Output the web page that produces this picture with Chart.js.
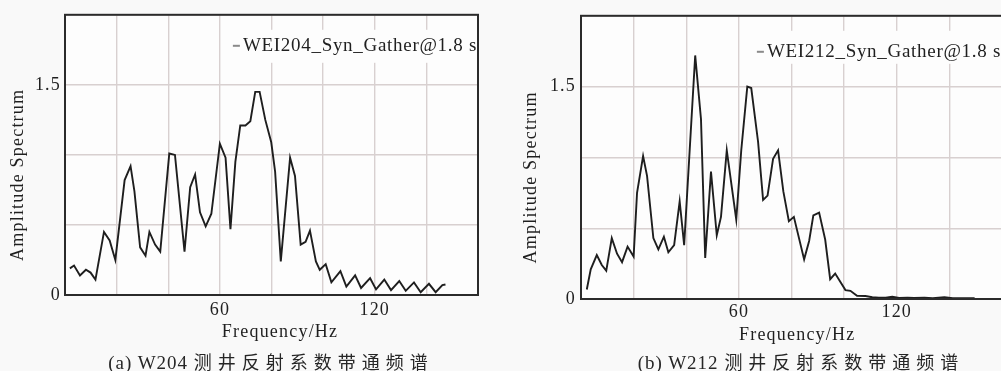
<!DOCTYPE html>
<html>
<head>
<meta charset="utf-8">
<script src="https://cdn.jsdelivr.net/npm/chart.js@4.4.1/dist/chart.umd.min.js"></script>
<style>
  html, body { margin: 0; padding: 0; }
  body { width: 1001px; height: 371px; overflow: hidden; position: relative; background: #f9f9f9; }
  canvas { position: absolute; top: 0; }
  #chartA { left: 0; }
  #chartB { left: 500px; }
  .cap { position: absolute; top: 348px; height: 22px; line-height: 22px; text-align: center; white-space: nowrap;
         font: 19px "Liberation Serif", serif; color: #262626; letter-spacing: 1px; }
  .cap span { font-family: "Noto Sans CJK SC", sans-serif; font-size: 18px; letter-spacing: 6px; }
</style>
</head>
<body>
<canvas id="chartA" width="500" height="371"></canvas>
<canvas id="chartB" width="520" height="371"></canvas>
<div class="cap" style="left:0;width:542px">(a) W204 <span>测井反射系数带通频谱</span></div>
<div class="cap" style="left:560px;width:482px">(b) W212 <span>测井反射系数带通频谱</span></div>
<script>
// values (frequency in Hz, amplitude)
const freqA = [1.9, 3.5, 5.8, 8.1, 9.9, 11.8, 15.1, 17.3, 19.5, 23.1, 25.4, 26.9, 29.1, 31.2, 32.7, 34.9, 36.9,
  40.4, 42.6, 46.3, 48.5, 50.4, 52.3, 54.5, 56.7, 60.0, 62.2, 64.1, 66.0, 67.9, 69.9, 71.8, 73.7, 75.4, 77.6,
  79.9, 81.4, 83.6, 87.2, 89.1, 91.3, 93.2, 94.9, 97.2, 98.7, 101.0, 103.2, 106.7, 109.0, 112.4, 114.7, 118.2,
  120.5, 123.7, 126.3, 129.5, 132.0, 135.2, 137.8, 141.0, 143.6, 146.2, 147.4];
const ampA = [0.19, 0.21, 0.14, 0.18, 0.16, 0.11, 0.45, 0.39, 0.25, 0.82, 0.92, 0.74, 0.34, 0.28, 0.45, 0.36, 0.31,
  1.01, 1.00, 0.31, 0.77, 0.86, 0.59, 0.49, 0.58, 1.08, 0.98, 0.47, 0.95, 1.21, 1.21, 1.24, 1.45, 1.45, 1.25,
  1.09, 0.88, 0.24, 0.98, 0.85, 0.36, 0.38, 0.46, 0.24, 0.18, 0.22, 0.09, 0.17, 0.06, 0.14, 0.05, 0.12,
  0.04, 0.11, 0.035, 0.10, 0.03, 0.09, 0.02, 0.08, 0.02, 0.07, 0.075];

const freqB = [2.2, 3.7, 6.0, 7.9, 9.6, 11.7, 13.7, 15.6, 17.7, 20.0, 21.3, 23.6, 25.1, 27.5, 29.4, 31.5, 33.2,
  35.4, 37.5, 39.2, 43.4, 45.6, 47.2, 49.4, 51.6, 53.2, 55.4, 59.0, 60.9, 63.2, 64.7, 67.3, 69.2, 70.9, 73.0,
  74.9, 76.9, 79.0, 80.9, 84.8, 86.7, 88.3, 90.5, 92.8, 94.7, 96.6, 100.5, 102.4, 104.9, 108.1, 110.7, 113.2,
  115.8, 118.3, 120.9, 124.1, 126.6, 130.5, 133.7, 138.1, 141.3, 145.2, 149.6];
const ampB = [0.067, 0.21, 0.31, 0.24, 0.20, 0.43, 0.32, 0.26, 0.37, 0.30, 0.75, 1.01, 0.87, 0.43, 0.35, 0.44, 0.33,
  0.38, 0.69, 0.38, 1.72, 1.27, 0.29, 0.90, 0.45, 0.58, 1.05, 0.56, 1.05, 1.50, 1.49, 1.11, 0.70, 0.73, 0.99,
  1.05, 0.76, 0.55, 0.58, 0.28, 0.41, 0.59, 0.61, 0.42, 0.14, 0.18, 0.063, 0.058, 0.023, 0.021, 0.012, 0.009,
  0.009, 0.016, 0.007, 0.009, 0.007, 0.009, 0.005, 0.012, 0.005, 0.005, 0.005];

const xTickLabels = [60, 120];
const yTickLabels = [0, 1.5];
const labelA = 'WEI204_Syn_Gather@1.8 s';
const labelB = 'WEI212_Syn_Gather@1.8 s';

Chart.defaults.font.family = '"Liberation Serif", "Times New Roman", serif';
Chart.defaults.font.size = 18;
Chart.defaults.color = '#1f1f1f';

function toPoints(xs, ys) {
  return xs.map((x, i) => ({ x: x, y: ys[i] }));
}

// wider letter spacing like the scanned figure, plus the white plot area
const textSpacing = {
  id: 'textSpacing',
  beforeLayout(chart) {
    chart.ctx.letterSpacing = '1.2px';
  },
  beforeDraw(chart) {
    const ctx = chart.ctx, a = chart.chartArea;
    ctx.letterSpacing = '1.2px';
    ctx.save();
    ctx.fillStyle = '#fdfdfd';
    ctx.fillRect(a.left, a.top, a.right - a.left, a.bottom - a.top);
    ctx.restore();
  }
};

// legend sits inside the box at top right, and the box gets a frame all round
const boxLegend = {
  id: 'boxLegend',
  beforeDatasetsDraw(chart, args, opts) {
    const ctx = chart.ctx, a = chart.chartArea;
    const text = chart.data.datasets[0].label;
    ctx.save();
    ctx.font = '19px "Liberation Serif", serif';
    ctx.letterSpacing = '0.7px';
    const w = ctx.measureText(text).width;
    const x = a.right - 1;
    const y = a.top + opts.baseline;
    ctx.fillStyle = '#fdfdfd';
    ctx.fillRect(x - w - 14, a.top + 15, w + 14, 33);
    ctx.fillStyle = '#8a8a8a';
    ctx.fillRect(x - w - 10, y - 6, 7, 2);
    ctx.fillStyle = '#1f1f1f';
    ctx.textAlign = 'right';
    ctx.textBaseline = 'alphabetic';
    ctx.fillText(text, x, y);
    ctx.restore();
  },
  afterDatasetsDraw(chart) {
    const ctx = chart.ctx, a = chart.chartArea;
    ctx.save();
    ctx.strokeStyle = '#2b2b2b';
    ctx.lineWidth = 2;
    ctx.strokeRect(a.left, a.top, a.right - a.left, a.bottom - a.top);
    ctx.restore();
  }
};

function makeChart(id, xs, ys, label, g) {
  return new Chart(document.getElementById(id), {
    type: 'line',
    data: {
      datasets: [{
        label: label,
        data: toPoints(xs, ys),
        borderColor: '#1e1e1e',
        borderWidth: 1.9,
        pointRadius: 0,
        tension: 0,
        fill: false
      }]
    },
    options: {
      responsive: false,
      animation: false,
      events: [],
      layout: { padding: { left: 0, top: g.top, right: g.right, bottom: 0 } },
      plugins: {
        legend: { display: false },
        tooltip: { enabled: false },
        boxLegend: { baseline: g.legendY }
      },
      scales: {
        x: {
          type: 'linear',
          min: 0,
          max: 160,
          afterFit: (s) => { s.height = g.xHeight; },
          grid: { color: '#d8d0d0', lineWidth: 1.4, drawTicks: false },
          border: { display: false },
          ticks: {
            stepSize: 20,
            autoSkip: false,
            maxRotation: 0,
            padding: g.xTickPad,
            callback: (v) => xTickLabels.includes(v) ? String(v) : ''
          },
          title: { display: true, text: g.xTitle, padding: { top: 0, bottom: g.xTitlePad } }
        },
        y: {
          min: 0,
          max: 2,
          afterFit: (s) => { s.width = g.yWidth; },
          grid: { color: '#d8d0d0', lineWidth: 1.4, drawTicks: false },
          border: { display: false },
          ticks: {
            stepSize: 0.5,
            padding: g.yTickPad,
            callback: (v) => yTickLabels.includes(v) ? String(v) : ''
          },
          title: { display: true, text: 'Amplitude Spectrum       ', padding: { top: g.yTitlePad, bottom: 0 } }
        }
      }
    },
    plugins: [textSpacing, boxLegend]
  });
}

makeChart('chartA', freqA, ampA, labelA, {
  top: 12, right: 22, xHeight: 76, yWidth: 65,
  xTickPad: 4, xTitlePad: 28, yTickPad: 4, yTitlePad: 7,
  xTitle: '   Frequency/Hz', legendY: 36
});

makeChart('chartB', freqB, ampB, labelB, {
  top: 11.5, right: 18, xHeight: 72, yWidth: 81,
  xTickPad: 2, xTitlePad: 25, yTickPad: 5, yTitlePad: 20,
  xTitle: '  Frequency/Hz', legendY: 41
});
</script>
</body>
</html>
